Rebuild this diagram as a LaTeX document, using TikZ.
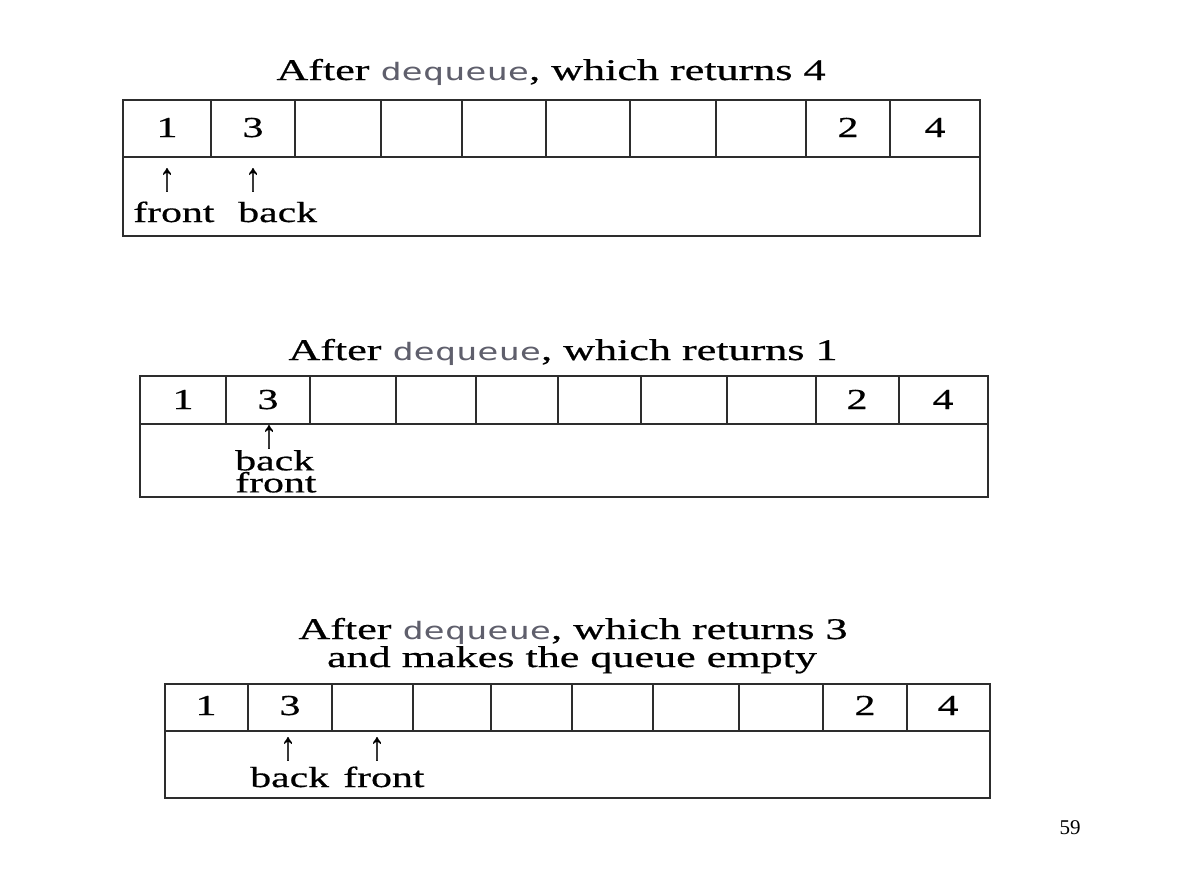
\documentclass[tikz,border=0pt]{standalone}
\usepackage{fontspec}
\setmainfont{Liberation Serif}[FakeBold=0.5]
\newfontfamily\codefont{DejaVu Sans Mono}
\newfontfamily\plainserif{Liberation Serif}
\definecolor{codegray}{RGB}{95,95,108}
\definecolor{linegray}{RGB}{45,45,45}
\newcommand\dqword{{\codefont\fontsize{24}{28}\selectfont\color{codegray}dequeue}}
\begin{document}
\begin{tikzpicture}[x=1pt,y=-1pt,
  txt/.style={inner sep=0pt, anchor=base, xscale=1.44, font=\fontsize{29}{34}\selectfont},
  ttl/.style={inner sep=0pt, anchor=base, xscale=1.47, font=\fontsize{30}{35}\selectfont},
  lbl/.style={inner sep=0pt, anchor=base west, xscale=1.44, font=\fontsize{29}{34}\selectfont},
  stack/.style={inner sep=0pt, anchor=north west, xscale=1.44, align=left, font=\fontsize{29}{22}\selectfont},
  ptr/.style={inner sep=0pt, anchor=center, xscale=0.8, font=\fontsize{40}{44}\selectfont},
  gridline/.style={draw=linegray, line width=1.6pt},
  pagenum/.style={inner sep=0pt, anchor=base, font=\plainserif\fontsize{21}{25}\selectfont}
]
\useasboundingbox (0,0) rectangle (1179,879);

% ---------- Panel 1 ----------
\node[ttl] (t1) at (551,80) {After \dqword, which returns 4};
\draw[gridline] (123,100) rectangle (980,236);
\draw[gridline] (123,157) -- (980,157);
\foreach \x in {211,295,381,462,546,630,716,806,890}
  \draw[gridline] (\x,100) -- (\x,157);
\node[txt] (a1) at (167,137) {1};
\node[txt] (a2) at (253,137) {3};
\node[txt] (a3) at (848,137) {2};
\node[txt] (a4) at (935,137) {4};
\node[ptr] (p1f) at (167,180) {↑};
\node[ptr] (p1b) at (253,180) {↑};
\node[lbl] (l1f) at (133,222) {front};
\node[lbl] (l1b) at (238,222) {back};

% ---------- Panel 2 ----------
\node[ttl] (t2) at (563,360) {After \dqword, which returns 1};
\draw[gridline] (140,376) rectangle (988,497);
\draw[gridline] (140,424) -- (988,424);
\foreach \x in {226,310,396,476,558,641,727,816,899}
  \draw[gridline] (\x,376) -- (\x,424);
\node[txt] (b1) at (183,409) {1};
\node[txt] (b2) at (268,409) {3};
\node[txt] (b3) at (857,409) {2};
\node[txt] (b4) at (943,409) {4};
\node[ptr] (p2) at (269,437) {↑};
\node[stack] (l2) at (235,450) {back\\front};

% ---------- Panel 3 ----------
\node[ttl] (t3a) at (573,639) {After \dqword, which returns 3};
\node[ttl] (t3b) at (572,667) {and makes the queue empty};
\draw[gridline] (165,684) rectangle (990,798);
\draw[gridline] (165,731) -- (990,731);
\foreach \x in {248,332,413,491,572,653,739,823,907}
  \draw[gridline] (\x,684) -- (\x,731);
\node[txt] (c1) at (206,715) {1};
\node[txt] (c2) at (290,715) {3};
\node[txt] (c3) at (865,715) {2};
\node[txt] (c4) at (948,715) {4};
\node[ptr] (p3b) at (288,749) {↑};
\node[ptr] (p3f) at (377,749) {↑};
\node[lbl] (l3b) at (250,787) {back};
\node[lbl] (l3f) at (343,787) {front};

% ---------- page number ----------
\node[pagenum] (pg) at (1070,834) {59};
\end{tikzpicture}
\end{document}
